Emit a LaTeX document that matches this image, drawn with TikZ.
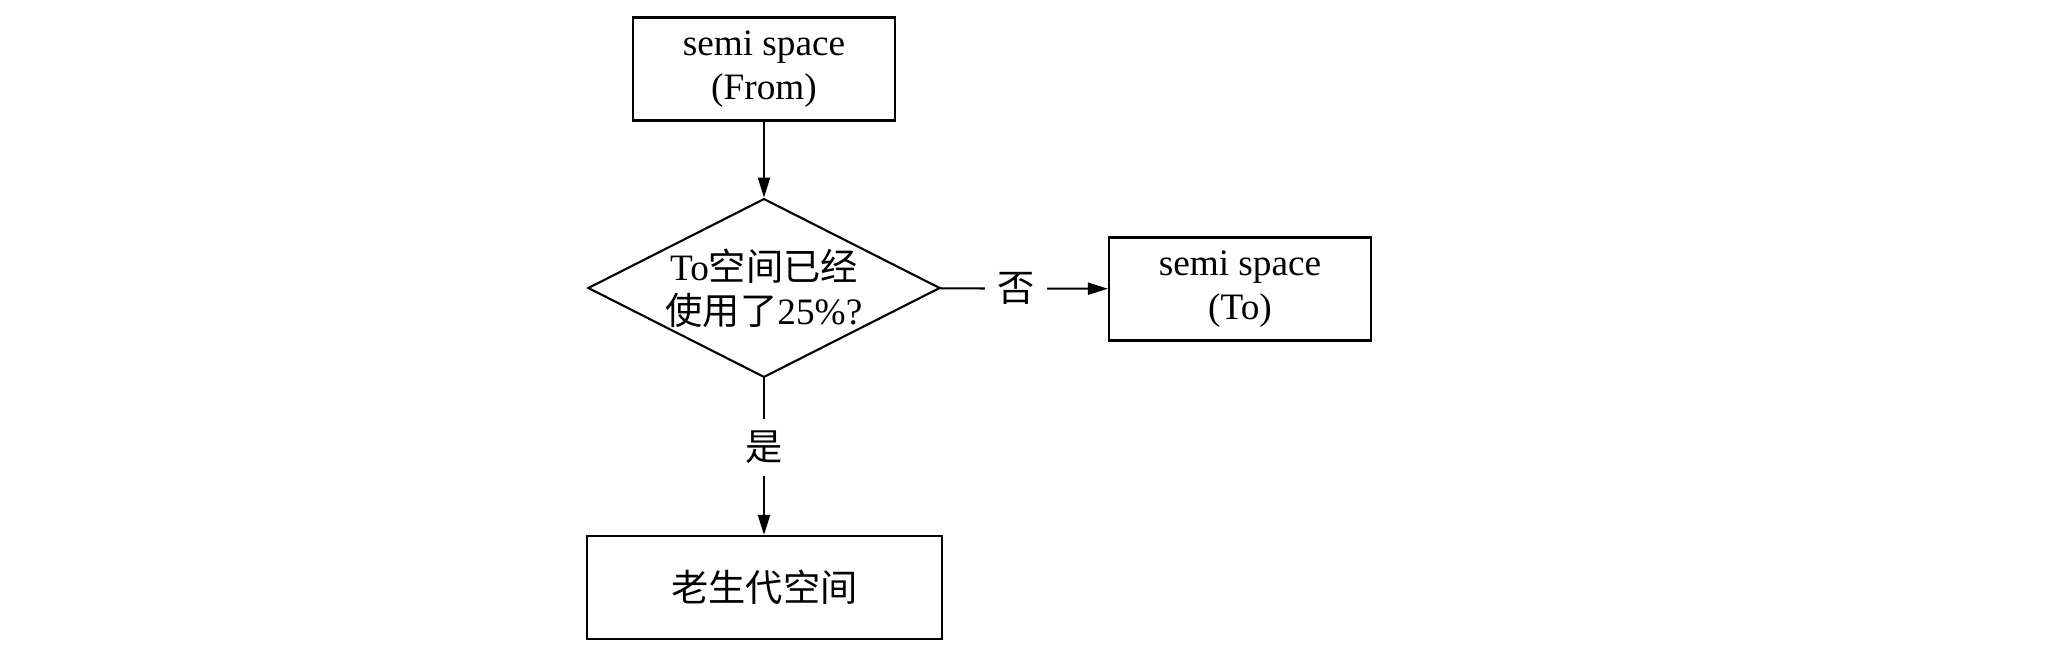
\documentclass[tikz,border=0pt]{standalone}
\usepackage{fontspec}
\setmainfont{Liberation Serif}
\newfontfamily\cjk{Noto Sans CJK SC}
\usetikzlibrary{shapes.geometric,arrows.meta}
\tikzset{
    box/.style={draw, line width=0.6pt, minimum height=1.03cm, align=center, inner sep=0pt},
    check/.style={draw, diamond, line width=0.6pt, shape aspect=1.97, minimum width=3.49cm, minimum height=1.77cm, inner sep=0pt, align=center},
    flow/.style={line width=0.6pt, -{Triangle[length=2mm,width=1.2mm]}},
    answer/.style={fill=white, inner sep=3.5pt}
}
\begin{document}
\begin{tikzpicture}[font=\fontsize{10.6pt}{12.6pt}\selectfont]
    \useasboundingbox (0,0) rectangle (20.66,6.64);
    \node[box, minimum width=2.62cm] (from) at (7.64,5.95) {semi space\\(From)};
    \node[check] (full) at (7.64,3.76) {To{\cjk 空间已经}\\{\cjk 使用了}25\%?};
    \node[box, minimum width=2.62cm] (to) at (12.40,3.75) {semi space\\(To)};
    \node[box, minimum width=3.55cm] (old) at (7.645,0.765) {\cjk 老生代空间};

    \draw[flow] (from) -- (full);
    \draw[flow] (full) -- node[answer, pos=0.45] (no) {\cjk 否} (to);
    \draw[flow] (full) -- node[answer, pos=0.44] (yes) {\cjk 是} (full |- old.north);
\end{tikzpicture}
\end{document}
